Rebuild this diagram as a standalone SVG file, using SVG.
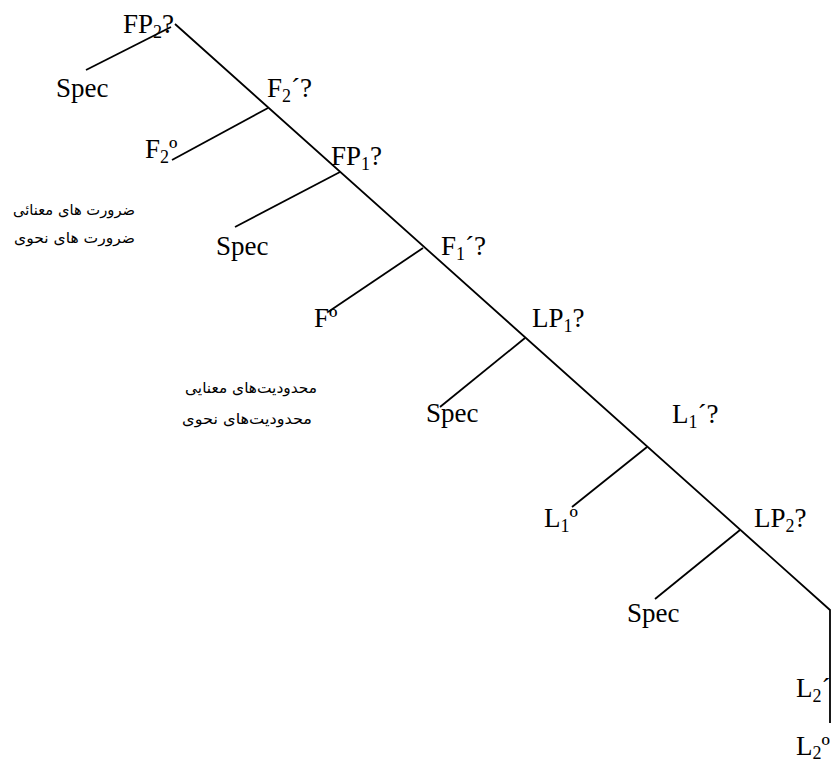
<svg xmlns="http://www.w3.org/2000/svg" width="832" height="764" viewBox="0 0 832 764">
<style>
.l{stroke:#000;stroke-width:1.8;fill:none;stroke-linecap:butt}
.t{font-family:"Liberation Serif","Times New Roman",serif;font-size:27px;fill:#000}
.s{font-size:18px}
.fa{font-family:"DejaVu Sans",sans-serif;font-size:15px;fill:#000}
</style>
<rect width="832" height="764" fill="#fff"/>
<g id="connectors">
<path class="l" d="M175,24 L830,610 L830,723"/>
<line class="l" x1="171" y1="27" x2="86" y2="70"/>
<line class="l" x1="268" y1="108" x2="172" y2="160"/>
<line class="l" x1="340" y1="172" x2="235" y2="227"/>
<line class="l" x1="423" y1="248" x2="328" y2="312"/>
<line class="l" x1="525" y1="338" x2="440" y2="407"/>
<line class="l" x1="647" y1="447" x2="572" y2="507"/>
<line class="l" x1="740" y1="530" x2="655" y2="599"/>
</g>
<g id="FP2"><text class="t" x="123" y="33">FP<tspan class="s" dy="5">2</tspan><tspan dy="-5">?</tspan></text></g>
<g id="Spec1"><text class="t" x="56" y="97">Spec</text></g>
<g id="F2bar"><text class="t" x="267" y="97">F<tspan class="s" dy="5">2</tspan><tspan dy="-5">´?</tspan></text></g>
<g id="F2o"><text class="t" x="145" y="158">F<tspan class="s" dy="5">2</tspan><tspan dy="-5">º</tspan></text></g>
<g id="FP1"><text class="t" x="331" y="165">FP<tspan class="s" dy="5">1</tspan><tspan dy="-5">?</tspan></text></g>
<g id="Spec2"><text class="t" x="216" y="255">Spec</text></g>
<g id="F1bar"><text class="t" x="441" y="255">F<tspan class="s" dy="5">1</tspan><tspan dy="-5">´?</tspan></text></g>
<g id="Fo"><text class="t" x="314" y="327">Fº</text></g>
<g id="LP1"><text class="t" x="532" y="327">LP<tspan class="s" dy="5">1</tspan><tspan dy="-5">?</tspan></text></g>
<g id="Spec3"><text class="t" x="426" y="422">Spec</text></g>
<g id="L1bar"><text class="t" x="672" y="423">L<tspan class="s" dy="5">1</tspan><tspan dy="-5">´?</tspan></text></g>
<g id="L1o"><text class="t" x="544" y="527">L<tspan class="s" dy="5">1</tspan><tspan dy="-5">º</tspan></text></g>
<g id="LP2"><text class="t" x="754" y="527">LP<tspan class="s" dy="5">2</tspan><tspan dy="-5">?</tspan></text></g>
<g id="Spec4"><text class="t" x="627" y="622">Spec</text></g>
<g id="L2bar"><text class="t" x="796" y="697">L<tspan class="s" dy="5">2</tspan><tspan dy="-5">´</tspan></text></g>
<g id="L2o"><text class="t" x="796" y="755">L<tspan class="s" dy="4">2</tspan><tspan dy="-4">º</tspan></text></g>
<g id="notes">
<text class="fa" x="135" y="215" text-anchor="end" textLength="122" lengthAdjust="spacingAndGlyphs">ضرورت های معنائی</text>
<text class="fa" x="135" y="243" text-anchor="end" textLength="121" lengthAdjust="spacingAndGlyphs">ضرورت های نحوی</text>
<text class="fa" x="317" y="393" text-anchor="end" textLength="132" lengthAdjust="spacingAndGlyphs">محدودیت‌های معنایی</text>
<text class="fa" x="312" y="424" text-anchor="end" textLength="130" lengthAdjust="spacingAndGlyphs">محدودیت‌های نحوی</text>
</g>
</svg>
